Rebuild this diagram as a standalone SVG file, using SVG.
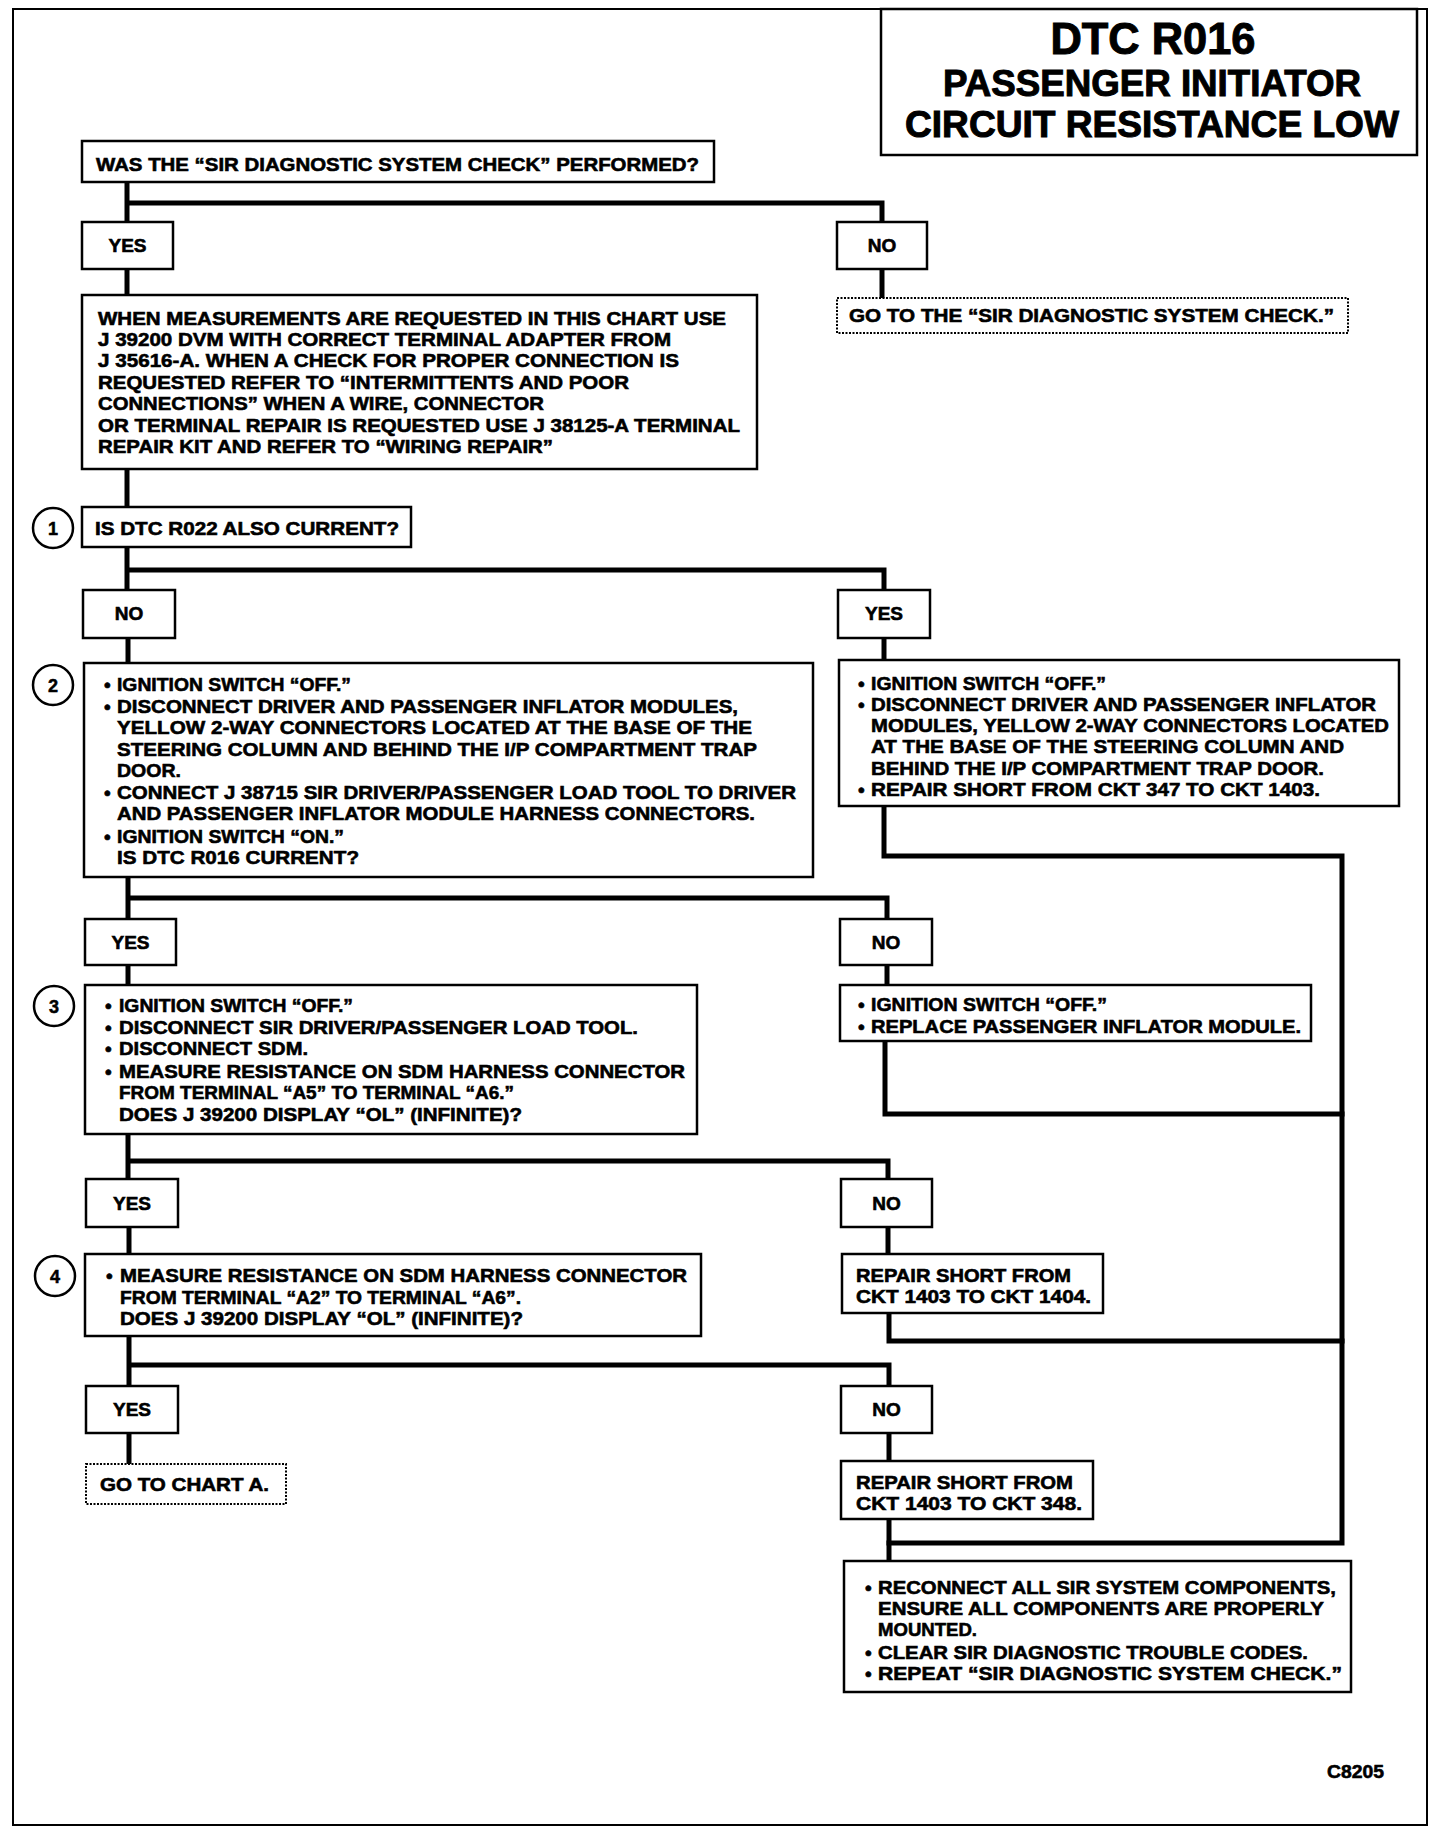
<svg xmlns="http://www.w3.org/2000/svg" width="1440" height="1832" viewBox="0 0 1440 1832">
<style>
.bx{fill:#fff;stroke:#000;stroke-width:2.5}
.dt{fill:#fff;stroke:#000;stroke-width:2;stroke-dasharray:2 1.5}
.cr{fill:#fff;stroke:#000;stroke-width:2.5}
.t{font-family:"Liberation Sans",Arial,Helvetica,sans-serif;font-weight:bold;font-size:19px;fill:#000;stroke:#000;stroke-width:0.6}
.m{text-anchor:middle}
.n{font-family:"Liberation Sans",Arial,Helvetica,sans-serif;font-weight:bold;font-size:18px;text-anchor:middle;fill:#000;stroke:#000;stroke-width:0.5}
.ttl{font-family:"Liberation Sans",Arial,Helvetica,sans-serif;font-weight:bold;text-anchor:middle;fill:#000;stroke:#000;stroke-width:1}
.c{fill:none;stroke:#000;stroke-width:5;stroke-linecap:square;stroke-linejoin:miter}
</style>
<rect x="0" y="0" width="1440" height="1832" fill="#fff"/>
<rect x="13" y="9" width="1414" height="1816" fill="none" stroke="#000" stroke-width="2"/>

<g id="connectors">
<path class="c" d="M127 182V222M127 203H882V222"/>
<path class="c" d="M882 269V298"/>
<path class="c" d="M127 269V295"/>
<path class="c" d="M127 469V507"/>
<path class="c" d="M127 547V590M127 570H884V590"/>
<path class="c" d="M884 638V660"/>
<path class="c" d="M128 638V663"/>
<path class="c" d="M128 877V919M128 898H887V919"/>
<path class="c" d="M887 965V985"/>
<path class="c" d="M128 965V985"/>
<path class="c" d="M128 1134V1179M128 1161H888V1179"/>
<path class="c" d="M888 1227V1254"/>
<path class="c" d="M129 1227V1254"/>
<path class="c" d="M129 1336V1386M129 1365H889V1386"/>
<path class="c" d="M889 1433V1461"/>
<path class="c" d="M129 1433V1464"/>
<path class="c" d="M884 806V856H1342V1543H889"/>
<path class="c" d="M889 1519V1561"/>
<path class="c" d="M885 1041V1114H1342"/>
<path class="c" d="M889 1313V1341H1342"/>
</g>

<g id="title">
<rect class="bx" x="881" y="9" width="536" height="146"/>
<text class="ttl" x="1153" y="54" font-size="44" textLength="205" lengthAdjust="spacingAndGlyphs">DTC R016</text>
<text class="ttl" x="1152" y="96" font-size="37" textLength="418" lengthAdjust="spacingAndGlyphs">PASSENGER INITIATOR</text>
<text class="ttl" x="1152" y="137" font-size="37" textLength="494" lengthAdjust="spacingAndGlyphs">CIRCUIT RESISTANCE LOW</text>
</g>

<g id="q-sir-check">
<rect class="bx" x="82" y="141" width="632" height="41"/>
<text class="t" x="96" y="171" textLength="603" lengthAdjust="spacingAndGlyphs">WAS THE “SIR DIAGNOSTIC SYSTEM CHECK” PERFORMED?</text>
</g>

<g id="yes-1">
<rect class="bx" x="82" y="222" width="91" height="47"/>
<text class="t m" x="127.5" y="252">YES</text>
</g>
<g id="no-1">
<rect class="bx" x="837" y="222" width="90" height="47"/>
<text class="t m" x="882" y="252">NO</text>
</g>
<g id="goto-sir-check">
<rect class="dt" x="837" y="298" width="511" height="35"/>
<text class="t" x="849" y="322" textLength="485" lengthAdjust="spacingAndGlyphs">GO TO THE “SIR DIAGNOSTIC SYSTEM CHECK.”</text>
</g>

<g id="measurement-note">
<rect class="bx" x="82" y="295" width="675" height="174"/>
<text class="t" x="98" y="325" textLength="628" lengthAdjust="spacingAndGlyphs">WHEN MEASUREMENTS ARE REQUESTED IN THIS CHART USE</text>
<text class="t" x="98" y="346" textLength="573" lengthAdjust="spacingAndGlyphs">J 39200 DVM WITH CORRECT TERMINAL ADAPTER FROM</text>
<text class="t" x="98" y="367" textLength="581" lengthAdjust="spacingAndGlyphs">J 35616-A. WHEN A CHECK FOR PROPER CONNECTION IS</text>
<text class="t" x="98" y="389" textLength="531" lengthAdjust="spacingAndGlyphs">REQUESTED REFER TO “INTERMITTENTS AND POOR</text>
<text class="t" x="98" y="410" textLength="446" lengthAdjust="spacingAndGlyphs">CONNECTIONS” WHEN A WIRE, CONNECTOR</text>
<text class="t" x="98" y="432" textLength="642" lengthAdjust="spacingAndGlyphs">OR TERMINAL REPAIR IS REQUESTED USE J 38125-A TERMINAL</text>
<text class="t" x="98" y="453" textLength="455" lengthAdjust="spacingAndGlyphs">REPAIR KIT AND REFER TO “WIRING REPAIR”</text>
</g>

<g id="step-1">
<circle class="cr" cx="53" cy="528" r="20"/>
<text class="n" x="53" y="535">1</text>
<rect class="bx" x="82" y="507" width="329" height="40"/>
<text class="t" x="95" y="535" textLength="304" lengthAdjust="spacingAndGlyphs">IS DTC R022 ALSO CURRENT?</text>
</g>

<g id="no-2">
<rect class="bx" x="83" y="590" width="92" height="48"/>
<text class="t m" x="129" y="620">NO</text>
</g>
<g id="yes-2">
<rect class="bx" x="838" y="590" width="92" height="48"/>
<text class="t m" x="884" y="620">YES</text>
</g>

<g id="step-2">
<circle class="cr" cx="53" cy="685" r="20"/>
<text class="n" x="53" y="692">2</text>
<rect class="bx" x="84" y="663" width="729" height="214"/>
<text class="t" x="104" y="691">•</text>
<text class="t" x="117" y="691" textLength="234" lengthAdjust="spacingAndGlyphs">IGNITION SWITCH “OFF.”</text>
<text class="t" x="104" y="713">•</text>
<text class="t" x="117" y="713" textLength="621" lengthAdjust="spacingAndGlyphs">DISCONNECT DRIVER AND PASSENGER INFLATOR MODULES,</text>
<text class="t" x="117" y="734" textLength="635" lengthAdjust="spacingAndGlyphs">YELLOW 2-WAY CONNECTORS LOCATED AT THE BASE OF THE</text>
<text class="t" x="117" y="756" textLength="640" lengthAdjust="spacingAndGlyphs">STEERING COLUMN AND BEHIND THE I/P COMPARTMENT TRAP</text>
<text class="t" x="117" y="777" textLength="64" lengthAdjust="spacingAndGlyphs">DOOR.</text>
<text class="t" x="104" y="799">•</text>
<text class="t" x="117" y="799" textLength="679" lengthAdjust="spacingAndGlyphs">CONNECT J 38715 SIR DRIVER/PASSENGER LOAD TOOL TO DRIVER</text>
<text class="t" x="117" y="820" textLength="638" lengthAdjust="spacingAndGlyphs">AND PASSENGER INFLATOR MODULE HARNESS CONNECTORS.</text>
<text class="t" x="104" y="843">•</text>
<text class="t" x="117" y="843" textLength="227" lengthAdjust="spacingAndGlyphs">IGNITION SWITCH “ON.”</text>
<text class="t" x="117" y="864" textLength="242" lengthAdjust="spacingAndGlyphs">IS DTC R016 CURRENT?</text>
</g>

<g id="repair-347">
<rect class="bx" x="839" y="660" width="560" height="146"/>
<text class="t" x="858" y="690">•</text>
<text class="t" x="871" y="690" textLength="235" lengthAdjust="spacingAndGlyphs">IGNITION SWITCH “OFF.”</text>
<text class="t" x="858" y="711">•</text>
<text class="t" x="871" y="711" textLength="505" lengthAdjust="spacingAndGlyphs">DISCONNECT DRIVER AND PASSENGER INFLATOR</text>
<text class="t" x="871" y="732" textLength="518" lengthAdjust="spacingAndGlyphs">MODULES, YELLOW 2-WAY CONNECTORS LOCATED</text>
<text class="t" x="871" y="753" textLength="473" lengthAdjust="spacingAndGlyphs">AT THE BASE OF THE STEERING COLUMN AND</text>
<text class="t" x="871" y="775" textLength="453" lengthAdjust="spacingAndGlyphs">BEHIND THE I/P COMPARTMENT TRAP DOOR.</text>
<text class="t" x="858" y="796">•</text>
<text class="t" x="871" y="796" textLength="449" lengthAdjust="spacingAndGlyphs">REPAIR SHORT FROM CKT 347 TO CKT 1403.</text>
</g>

<g id="yes-3">
<rect class="bx" x="85" y="919" width="91" height="46"/>
<text class="t m" x="130.5" y="949">YES</text>
</g>
<g id="no-3">
<rect class="bx" x="840" y="919" width="92" height="46"/>
<text class="t m" x="886" y="949">NO</text>
</g>

<g id="step-3">
<circle class="cr" cx="54" cy="1006" r="20"/>
<text class="n" x="54" y="1013">3</text>
<rect class="bx" x="85" y="985" width="612" height="149"/>
<text class="t" x="105" y="1012">•</text>
<text class="t" x="119" y="1012" textLength="234" lengthAdjust="spacingAndGlyphs">IGNITION SWITCH “OFF.”</text>
<text class="t" x="105" y="1034">•</text>
<text class="t" x="119" y="1034" textLength="519" lengthAdjust="spacingAndGlyphs">DISCONNECT SIR DRIVER/PASSENGER LOAD TOOL.</text>
<text class="t" x="105" y="1055">•</text>
<text class="t" x="119" y="1055" textLength="189" lengthAdjust="spacingAndGlyphs">DISCONNECT SDM.</text>
<text class="t" x="105" y="1078">•</text>
<text class="t" x="119" y="1078" textLength="566" lengthAdjust="spacingAndGlyphs">MEASURE RESISTANCE ON SDM HARNESS CONNECTOR</text>
<text class="t" x="119" y="1099" textLength="395" lengthAdjust="spacingAndGlyphs">FROM TERMINAL “A5” TO TERMINAL “A6.”</text>
<text class="t" x="119" y="1121" textLength="403" lengthAdjust="spacingAndGlyphs">DOES J 39200 DISPLAY “OL” (INFINITE)?</text>
</g>

<g id="replace-inflator">
<rect class="bx" x="840" y="985" width="471" height="56"/>
<text class="t" x="858" y="1011">•</text>
<text class="t" x="871" y="1011" textLength="236" lengthAdjust="spacingAndGlyphs">IGNITION SWITCH “OFF.”</text>
<text class="t" x="858" y="1033">•</text>
<text class="t" x="871" y="1033" textLength="430" lengthAdjust="spacingAndGlyphs">REPLACE PASSENGER INFLATOR MODULE.</text>
</g>

<g id="yes-4">
<rect class="bx" x="86" y="1179" width="92" height="48"/>
<text class="t m" x="132" y="1210">YES</text>
</g>
<g id="no-4">
<rect class="bx" x="841" y="1179" width="91" height="48"/>
<text class="t m" x="886.5" y="1210">NO</text>
</g>

<g id="step-4">
<circle class="cr" cx="55" cy="1276" r="20"/>
<text class="n" x="55" y="1283">4</text>
<rect class="bx" x="85" y="1254" width="616" height="82"/>
<text class="t" x="106" y="1282">•</text>
<text class="t" x="120" y="1282" textLength="567" lengthAdjust="spacingAndGlyphs">MEASURE RESISTANCE ON SDM HARNESS CONNECTOR</text>
<text class="t" x="120" y="1304" textLength="401" lengthAdjust="spacingAndGlyphs">FROM TERMINAL “A2” TO TERMINAL “A6”.</text>
<text class="t" x="120" y="1325" textLength="403" lengthAdjust="spacingAndGlyphs">DOES J 39200 DISPLAY “OL” (INFINITE)?</text>
</g>

<g id="repair-1404">
<rect class="bx" x="842" y="1254" width="261" height="59"/>
<text class="t" x="856" y="1282" textLength="215" lengthAdjust="spacingAndGlyphs">REPAIR SHORT FROM</text>
<text class="t" x="856" y="1303" textLength="235" lengthAdjust="spacingAndGlyphs">CKT 1403 TO CKT 1404.</text>
</g>

<g id="yes-5">
<rect class="bx" x="86" y="1386" width="92" height="47"/>
<text class="t m" x="132" y="1416">YES</text>
</g>
<g id="no-5">
<rect class="bx" x="841" y="1386" width="91" height="47"/>
<text class="t m" x="886.5" y="1416">NO</text>
</g>

<g id="goto-chart-a">
<rect class="dt" x="86" y="1464" width="200" height="40"/>
<text class="t" x="100" y="1491" textLength="169" lengthAdjust="spacingAndGlyphs">GO TO CHART A.</text>
</g>

<g id="repair-348">
<rect class="bx" x="841" y="1461" width="252" height="58"/>
<text class="t" x="856" y="1489" textLength="217" lengthAdjust="spacingAndGlyphs">REPAIR SHORT FROM</text>
<text class="t" x="856" y="1510" textLength="226" lengthAdjust="spacingAndGlyphs">CKT 1403 TO CKT 348.</text>
</g>

<g id="reconnect">
<rect class="bx" x="844" y="1561" width="507" height="131"/>
<text class="t" x="865" y="1594">•</text>
<text class="t" x="878" y="1594" textLength="458" lengthAdjust="spacingAndGlyphs">RECONNECT ALL SIR SYSTEM COMPONENTS,</text>
<text class="t" x="878" y="1615" textLength="446" lengthAdjust="spacingAndGlyphs">ENSURE ALL COMPONENTS ARE PROPERLY</text>
<text class="t" x="878" y="1636" textLength="99" lengthAdjust="spacingAndGlyphs">MOUNTED.</text>
<text class="t" x="865" y="1659">•</text>
<text class="t" x="878" y="1659" textLength="430" lengthAdjust="spacingAndGlyphs">CLEAR SIR DIAGNOSTIC TROUBLE CODES.</text>
<text class="t" x="865" y="1680">•</text>
<text class="t" x="878" y="1680" textLength="464" lengthAdjust="spacingAndGlyphs">REPEAT “SIR DIAGNOSTIC SYSTEM CHECK.”</text>
</g>

<g id="figure-code">
<text class="t" x="1327" y="1778" textLength="57" lengthAdjust="spacingAndGlyphs">C8205</text>
</g>
</svg>
